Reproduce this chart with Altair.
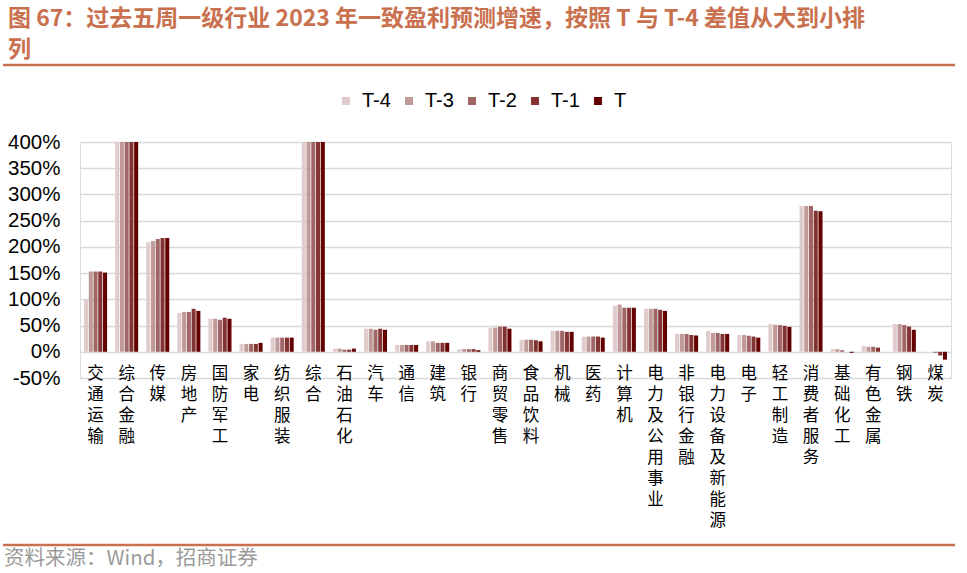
import altair as alt
import pandas as pd

title_line1 = "图 67：过去五周一级行业 2023 年一致盈利预测增速，按照 T 与 T-4 差值从大到小排"
title_line2 = "列"
source_text = "资料来源：Wind，招商证券"

categories = ["交通运输", "综合金融", "传媒", "房地产", "国防军工", "家电", "纺织服装", "综合",
              "石油石化", "汽车", "通信", "建筑", "银行", "商贸零售", "食品饮料", "机械", "医药",
              "计算机", "电力及公用事业", "非银行金融", "电力设备及新能源", "电子", "轻工制造",
              "消费者服务", "基础化工", "有色金属", "钢铁", "煤炭"]
periods = ["T-4", "T-3", "T-2", "T-1", "T"]

t_4 = [100, 400, 209, 74, 63, 15, 27, 400, 6, 44, 13, 20, 5, 46, 23, 40, 29, 88, 82, 34, 40, 32, 53, 278, 5, 11, 53, 0]
t_3 = [153, 400, 211, 76, 63, 15, 27, 400, 6, 44, 13, 20, 5, 46, 23, 40, 29, 90, 82, 34, 36, 32, 51.5, 278, 5, 9.5, 53, 0]
t_2 = [153, 400, 215, 76, 61, 15, 27, 400, 4, 42, 13, 17, 5, 48, 23, 40, 29, 84, 82, 34, 36, 30.5, 51, 278, 3, 9.5, 51, -2]
t_1 = [153, 400, 217, 82, 65, 15, 27, 400, 4, 44, 13, 17, 5, 48, 22, 38, 29, 84, 80, 32, 34, 29, 49.5, 269, 0, 8, 48, -7]
t_0 = [151, 400, 217, 78, 63, 17, 27, 400, 6, 42, 13, 17, 3, 44, 20, 38, 27, 84, 78, 31, 34, 27, 47.5, 268, -2, 0, 42, -15]

colors = ["#E0CCCC", "#C09999", "#A06666", "#843333", "#650000"]
y_ticks = [-50, 0, 50, 100, 150, 200, 250, 300, 350, 400]

rows = []
for i, c in enumerate(categories):
    for p, vals in zip(periods, [t_4, t_3, t_2, t_1, t_0]):
        rows.append({"industry": c, "period": p, "value": vals[i]})
df = pd.DataFrame(rows)

accent = "#C9714E"
cjk = "Noto Sans CJK SC"

bars = alt.Chart(df).mark_bar().encode(
    x=alt.X("industry:N", sort=categories,
            scale=alt.Scale(paddingInner=0.26, paddingOuter=0.13),
            axis=alt.Axis(title=None, labelExpr="split(datum.label, '')", labelAngle=0,
                          labelFont=cjk, labelFontSize=16.5, labelLineHeight=21,
                          labelColor="#000000", labelPadding=13, offset=-26,
                          ticks=False, domain=False, labelBaseline="top", labelAlign="center")),
    xOffset=alt.XOffset("period:N", sort=periods, scale=alt.Scale(domain=periods, paddingInner=0.15)),
    y=alt.Y("value:Q", scale=alt.Scale(domain=[-50, 400], nice=False, zero=False),
            axis=alt.Axis(title=None, values=y_ticks, labelExpr="datum.value + '%'",
                          labelFont="Liberation Sans", labelFontSize=20.5, labelColor="#000000",
                          labelPadding=20, ticks=False, domain=False,
                          gridColor="#D9D9D9", gridWidth=1.6)),
    color=alt.Color("period:N", sort=periods,
                    scale=alt.Scale(domain=periods, range=colors),
                    legend=alt.Legend(title=None, orient="none", legendX=256, legendY=-51,
                                      direction="horizontal", symbolType="square", symbolSize=64,
                                      symbolStrokeWidth=0, labelFont="Liberation Sans",
                                      labelFontSize=20, labelColor="#000000", labelOffset=6,
                                      columnPadding=8, padding=0))
)

one = pd.DataFrame({"k": [0]})

title1 = alt.Chart(pd.DataFrame({"t": [title_line1]})).mark_text(
    align="left", baseline="middle", font=cjk, fontSize=23, fontWeight="bold", color=accent
).encode(x=alt.value(-72), y=alt.value(-123), text="t:N")

title2 = alt.Chart(pd.DataFrame({"t": [title_line2]})).mark_text(
    align="left", baseline="middle", font=cjk, fontSize=23, fontWeight="bold", color=accent
).encode(x=alt.value(-72), y=alt.value(-92), text="t:N")

top_line = alt.Chart(one).mark_rule(color=accent, strokeWidth=2.5).encode(
    x=alt.value(-77), x2=alt.value(875), y=alt.value(-77))

bottom_line = alt.Chart(one).mark_rule(color=accent, strokeWidth=2.5).encode(
    x=alt.value(-77), x2=alt.value(875), y=alt.value(403))

source = alt.Chart(pd.DataFrame({"t": [source_text]})).mark_text(
    align="left", baseline="middle", font=cjk, fontSize=20.5, color="#9A9A9A"
).encode(x=alt.value(-76), y=alt.value(417), text="t:N")

chart = alt.layer(bars, title1, title2, top_line, bottom_line, source).properties(
    width=871, height=236,
    padding={"left": 80, "top": 142, "right": 16, "bottom": 195},
    autosize=alt.AutoSizeParams(type="none"),
).configure_view(stroke=None).configure(background="white")

chart.save("out.html", embed_options={"renderer": "svg", "actions": False})
